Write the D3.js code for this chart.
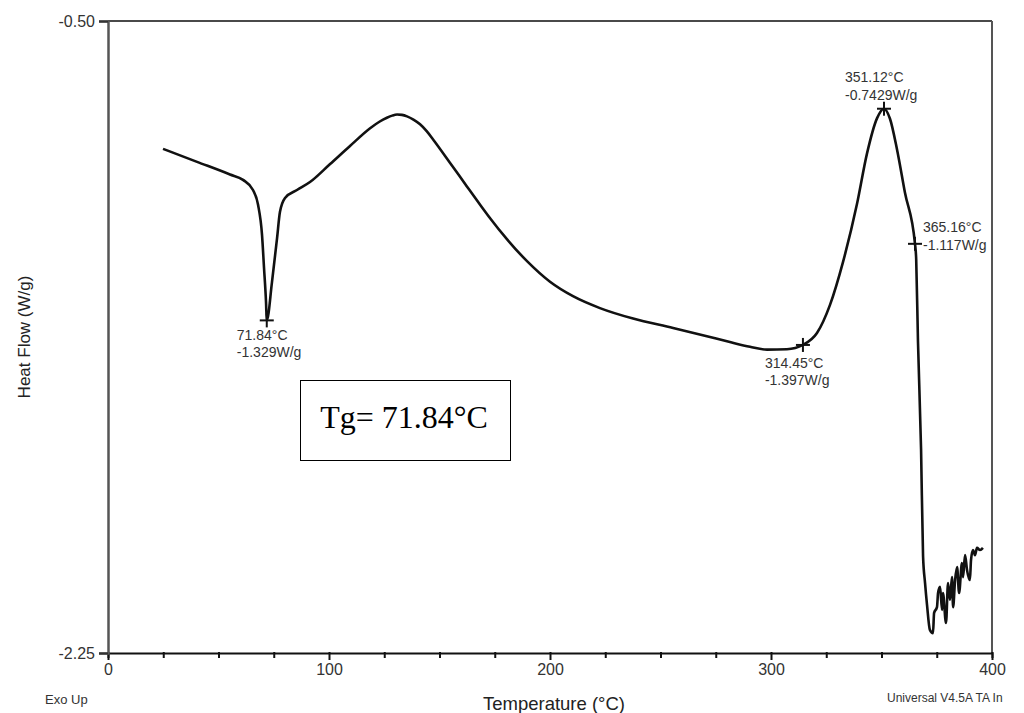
<!DOCTYPE html>
<html>
<head>
<meta charset="utf-8">
<script src="https://cdn.jsdelivr.net/npm/d3@7"></script>
<style>
  html, body { margin: 0; padding: 0; background: #fff; overflow: hidden; }
  svg { display: block; }
</style>
</head>
<body>
<svg id="chart" width="1024" height="713"></svg>
<script>
// ---- Data ----
const temperature = [
  24.9, 40.3, 55.2, 61.1, 65.6, 67.9, 69.7, 70.6, 71.5, 71.84,
  74.2, 76.5, 77.8, 80.1, 85.5, 91.4, 100.5, 109.5, 118.6, 122.8,
  126.2, 128.6, 130.8, 133.0, 135.3, 138.2, 141.2, 144.2, 147.1, 154.8,
  162.4, 168.3, 172.9, 180.5, 189.6,
  200.0, 210.4, 222.6, 237.6, 255.7, 271.0, 281.4, 290.5, 298.2, 307.2,
  314.45, 320.8, 326.7, 332.6, 338.9, 343.4, 348.0, 351.12, 353.8, 357.0,
  360.6, 365.16, 365.7, 366.5, 367.9, 368.8, 369.7, 370.6, 371.9, 373.3, 373.8,
  375.1, 375.6, 376.5, 377.4, 377.8, 379.2, 380.1, 381.0, 381.9, 382.4,
  383.3, 384.2, 385.1, 386.4, 386.9, 387.8, 388.7, 390.0, 390.5, 391.4,
  392.3, 393.2, 394.6, 395.9
];
const heatFlow = [
  -0.854, -0.890, -0.925, -0.940, -0.968, -1.009, -1.093, -1.184, -1.278, -1.329,
  -1.223, -1.101, -1.029, -0.990, -0.968, -0.946, -0.896, -0.846, -0.797, -0.779,
  -0.768, -0.762, -0.759, -0.760, -0.764, -0.773, -0.786, -0.805, -0.828, -0.893,
  -0.958, -1.008, -1.046, -1.104, -1.165,
  -1.222, -1.262, -1.295, -1.324, -1.350, -1.373, -1.389, -1.402, -1.410, -1.409,
  -1.397, -1.364, -1.286, -1.167, -1.007, -0.868, -0.769, -0.7429, -0.770, -0.855,
  -0.975, -1.117, -1.160, -1.386, -1.685, -1.981, -2.056, -2.117, -2.186, -2.195, -2.139,
  -2.123, -2.084, -2.067, -2.131, -2.084, -2.167, -2.056, -2.103, -2.040, -2.123,
  -2.048, -2.012, -2.084, -2.001, -2.040, -1.979, -2.020, -2.048, -1.993, -1.965,
  -1.979, -1.959, -1.965, -1.959
];

const markerTemps  = [71.84, 314.45, 351.12, 365.16];
const markerValues = [-1.329, -1.397, -0.7429, -1.117];
const markerTempLabels  = ["71.84°C", "314.45°C", "351.12°C", "365.16°C"];
const markerValueLabels = ["-1.329W/g", "-1.397W/g", "-0.7429W/g", "-1.117W/g"];

const xTickValues = [0, 25, 50, 75, 100, 125, 150, 175, 200, 225, 250, 275, 300, 325, 350, 375, 400];
const xTickLabels = ["0", "100", "200", "300", "400"];
const yTickValues = [-0.50, -2.25];
const yTickLabels = ["-0.50", "-2.25"];

const xTitle = "Temperature (°C)";
const yTitle = "Heat Flow (W/g)";
const leftNote = "Exo Up";
const rightNote = "Universal V4.5A TA In";
const tgText = "Tg= 71.84°C";

// ---- Layout ----
const W = 1024, H = 713;
const margin = { left: 108, top: 21, right: 32, bottom: 60 };
const plotW = W - margin.left - margin.right;   // 884
const plotH = H - margin.top - margin.bottom;   // 632

const svg = d3.select("#chart");
const g = svg.append("g").attr("transform", `translate(${margin.left},${margin.top})`);

const x = d3.scaleLinear().domain([0, 400]).range([0, plotW]);
const y = d3.scaleLinear().domain([-2.25, -0.50]).range([plotH, 0]);

const sans = "'Liberation Sans', Arial, Helvetica, sans-serif";

// Frame
g.append("line").attr("x1", 0).attr("x2", plotW).attr("y1", 0).attr("y2", 0)
  .attr("stroke", "#4a4a4a").attr("stroke-width", 2);
g.append("line").attr("x1", plotW).attr("x2", plotW).attr("y1", 0).attr("y2", plotH)
  .attr("stroke", "#555").attr("stroke-width", 2);

// X axis
const xAxis = d3.axisBottom(x)
  .tickValues(xTickValues)
  .tickSizeOuter(0)
  .tickSize(5)
  .tickPadding(6)
  .tickFormat(d => (xTickLabels.includes(String(d)) ? String(d) : ""));
const gx = g.append("g").attr("transform", `translate(0,${plotH})`).call(xAxis);
gx.select(".domain").attr("stroke", "#111").attr("stroke-width", 2);
gx.selectAll(".tick line").attr("stroke", "#111").attr("stroke-width", 2)
  .attr("y1", -1)
  .attr("y2", d => (d % 100 === 0 ? 7 : 5));
gx.selectAll(".tick text").attr("font-family", sans).attr("font-size", 16).attr("fill", "#333");

// Y axis
const yAxis = d3.axisLeft(y)
  .tickValues(yTickValues)
  .tickSizeOuter(0)
  .tickSize(9)
  .tickPadding(4)
  .tickFormat((d, i) => yTickLabels[i]);
const gy = g.append("g").call(yAxis);
gy.select(".domain").attr("stroke", "#555").attr("stroke-width", 2.5);
gy.selectAll(".tick line").attr("stroke", "#333").attr("stroke-width", 2);
gy.selectAll(".tick text").attr("font-family", sans).attr("font-size", 16).attr("fill", "#333");

// Curve
const line = d3.line()
  .x((d, i) => x(temperature[i]))
  .y((d, i) => y(heatFlow[i]))
  .curve(d3.curveMonotoneX);
g.append("path")
  .datum(heatFlow)
  .attr("d", line)
  .attr("fill", "none")
  .attr("stroke", "#111")
  .attr("stroke-width", 2.6)
  .attr("stroke-linejoin", "round");

// Markers (+)
const mk = g.append("g");
markerTemps.forEach((t, i) => {
  const px = x(t), py = y(markerValues[i]);
  mk.append("line").attr("x1", px - 7).attr("x2", px + 7).attr("y1", py).attr("y2", py)
    .attr("stroke", "#111").attr("stroke-width", 2);
  mk.append("line").attr("x1", px).attr("x2", px).attr("y1", py - 7).attr("y2", py + 7)
    .attr("stroke", "#111").attr("stroke-width", 2);
});

// Marker labels (offsets relative to the marker)
const labelOffsets = [
  { dx: -30, dy1: 15, dy2: 32 },
  { dx: -38, dy1: 18, dy2: 35 },
  { dx: -39, dy1: -32, dy2: -14 },
  { dx: 8, dy1: -17, dy2: 1 }
];
markerTemps.forEach((t, i) => {
  const px = x(t), py = y(markerValues[i]);
  const o = labelOffsets[i];
  g.append("text").attr("x", px + o.dx).attr("y", py + o.dy1)
    .attr("dominant-baseline", "central")
    .attr("font-family", sans).attr("font-size", 14).attr("fill", "#333")
    .text(markerTempLabels[i]);
  g.append("text").attr("x", px + o.dx).attr("y", py + o.dy2)
    .attr("dominant-baseline", "central")
    .attr("font-family", sans).attr("font-size", 14).attr("fill", "#333")
    .text(markerValueLabels[i]);
});

// Axis titles
svg.append("text")
  .attr("transform", `translate(24,337) rotate(-90)`)
  .attr("text-anchor", "middle").attr("dominant-baseline", "central")
  .attr("font-family", sans).attr("font-size", 17).attr("fill", "#222")
  .text(yTitle);
svg.append("text")
  .attr("x", 554).attr("y", 703)
  .attr("text-anchor", "middle").attr("dominant-baseline", "central")
  .attr("font-family", sans).attr("font-size", 18.5).attr("fill", "#222")
  .text(xTitle);

// Footnotes
svg.append("text").attr("x", 45).attr("y", 699)
  .attr("dominant-baseline", "central")
  .attr("font-family", sans).attr("font-size", 13).attr("fill", "#333")
  .text(leftNote);
svg.append("text").attr("x", 887).attr("y", 698)
  .attr("dominant-baseline", "central")
  .attr("font-family", sans).attr("font-size", 12).attr("fill", "#333")
  .text(rightNote);

// Tg box
svg.append("rect").attr("x", 300.5).attr("y", 380.5).attr("width", 210).attr("height", 80)
  .attr("fill", "#fff").attr("stroke", "#000").attr("stroke-width", 1);
svg.append("text").attr("x", 404).attr("y", 417)
  .attr("text-anchor", "middle").attr("dominant-baseline", "central")
  .attr("font-family", "'Liberation Serif', 'Times New Roman', serif")
  .attr("font-size", 32).attr("fill", "#000")
  .text(tgText);
</script>
</body>
</html>
